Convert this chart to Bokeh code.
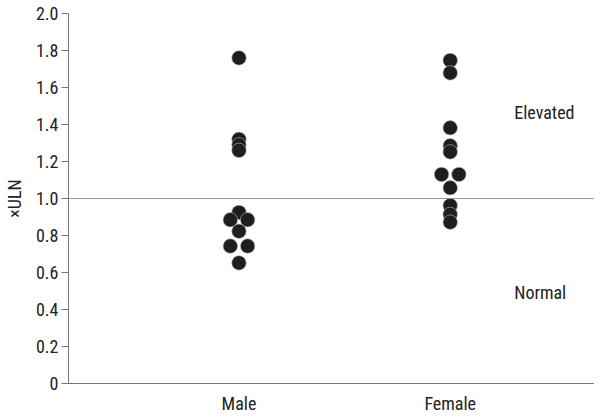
from bokeh.plotting import figure
from bokeh.models import FixedTicker, Span, Label, ColumnDataSource
from bokeh.embed import file_html
from bokeh.resources import INLINE

# ---- data ----
groups = ["Male", "Female"]
male_values = [1.76, 1.32, 1.29, 1.26, 0.925, 0.885, 0.885, 0.823, 0.743, 0.743, 0.652]
male_jitter = [0, 0, 0, 0, 0, -1, 1, 0, -1, 1, 0]
female_values = [1.746, 1.679, 1.382, 1.285, 1.252, 1.13, 1.13, 1.058, 0.962, 0.914, 0.872]
female_jitter = [0, 0, 0, 0, 0, -1, 1, 0, 0, 0, 0]
y_ticks = [0, 0.2, 0.4, 0.6, 0.8, 1.0, 1.2, 1.4, 1.6, 1.8, 2.0]
threshold = 1.0
region_labels = ["Elevated", "Normal"]
region_label_y = [1.465, 0.49]

FONT = "Roboto Condensed, DejaVu Sans Condensed, Liberation Sans Narrow, Roboto, sans-serif"
group_pos = [0.807, 1.807]
jw = 0.041

xs, ys = [], []
for pos, vals, jit in [(group_pos[0], male_values, male_jitter),
                       (group_pos[1], female_values, female_jitter)]:
    for v, j in zip(vals, jit):
        xs.append(pos + j * jw)
        ys.append(v)
src = ColumnDataSource(dict(x=xs, y=ys))

p = figure(width=594, height=416, x_range=(0, 2.49), y_range=(0, 2.0),
           output_backend="svg", toolbar_location=None,
           min_border_left=62, min_border_top=13, min_border_right=0, min_border_bottom=25)
p.outline_line_color = None
p.xgrid.visible = False
p.ygrid.visible = False
p.background_fill_color = "white"
p.border_fill_color = "white"

p.add_layout(Span(location=threshold, dimension="width", line_color="#999999", line_width=1.2))

p.scatter("x", "y", source=src, size=14.5, fill_color="#1e1e1e", line_color="#bbbbbb", line_width=0.6)

for txt, yy in zip(region_labels, region_label_y):
    p.add_layout(Label(x=2.11, y=yy, text=txt, text_font=FONT, text_font_size="18px",
                       text_color="#222222", text_baseline="middle", text_align="left"))

# y axis
p.yaxis.ticker = FixedTicker(ticks=y_ticks)
p.yaxis.major_label_overrides = {t: ("0" if t == 0 else f"{t:.1f}") for t in y_ticks}
p.yaxis.axis_label = "×ULN"
p.yaxis.axis_label_text_font = FONT
p.yaxis.axis_label_text_font_size = "18px"
p.yaxis.axis_label_text_font_style = "normal"
p.yaxis.axis_label_text_color = "#222222"
p.yaxis.major_label_text_font = FONT
p.yaxis.major_label_text_font_size = "18px"
p.yaxis.major_label_text_color = "#222222"
p.yaxis.major_tick_out = 7
p.yaxis.major_tick_in = 0
p.yaxis.minor_tick_out = 0
p.yaxis.minor_tick_in = 0
p.yaxis.major_label_standoff = 3
p.yaxis.axis_label_standoff = 8
p.yaxis.axis_line_color = "#777777"
p.yaxis.major_tick_line_color = "#777777"

# x axis
p.xaxis.ticker = FixedTicker(ticks=group_pos)
p.xaxis.major_label_overrides = {pos: g for pos, g in zip(group_pos, groups)}
p.xaxis.major_label_text_font = FONT
p.xaxis.major_label_text_font_size = "18px"
p.xaxis.major_label_text_color = "#222222"
p.xaxis.major_tick_out = 0
p.xaxis.major_tick_in = 0
p.xaxis.minor_tick_out = 0
p.xaxis.minor_tick_in = 0
p.xaxis.major_label_standoff = 9
p.xaxis.axis_line_color = "#777777"

open("out.html", "w").write(file_html(p, INLINE))
